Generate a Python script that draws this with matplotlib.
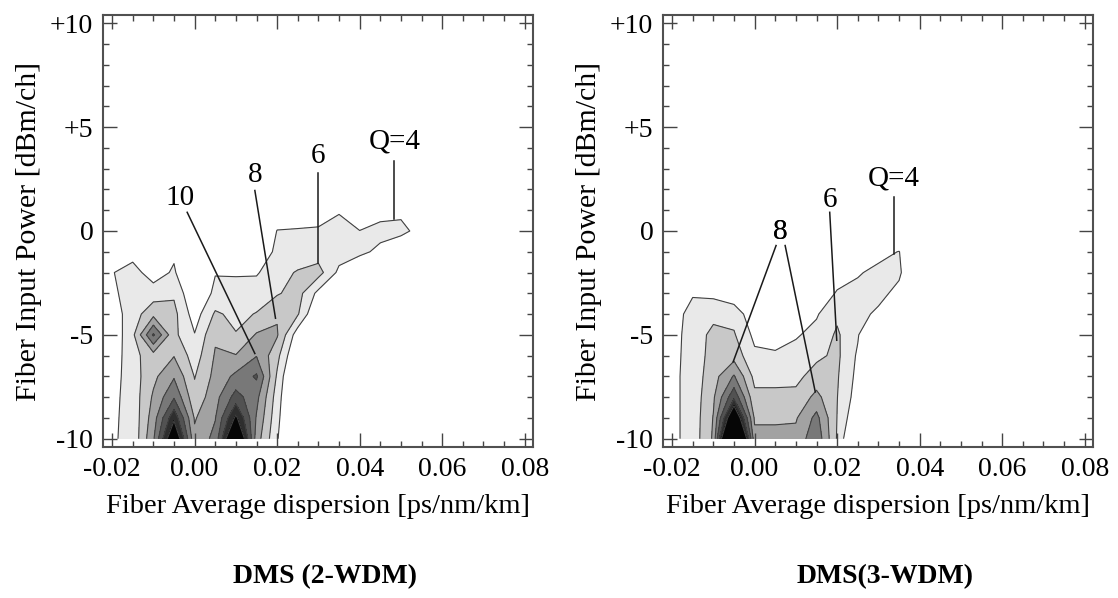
import matplotlib
matplotlib.use("Agg")
import matplotlib.pyplot as plt
import numpy as np

plt.rcParams["font.family"] = ["Liberation Serif", "DejaVu Serif"]

# grid of the simulation (dispersion in ps/nm/km, power in dBm/ch)
disp = [-0.025, -0.02, -0.015, -0.01, -0.005, 0.0, 0.005, 0.01, 0.015,
        0.02, 0.025, 0.03, 0.035, 0.04, 0.045, 0.05, 0.055, 0.06]
power = [-10, -9, -8, -7, -6, -5, -4, -3, -2, -1, 0, 1, 2]

# Q factor, one row per power value
q_2wdm = [
    [0, 3.8, 4.5, 9.7, 19.0, 8.5, 10.6, 21.0, 9.0, 4.2, 0, 0, 0, 0, 0, 0, 0, 0],
    [0, 3.7, 4.6, 9.0, 15.5, 7.8, 9.9, 16.5, 9.8, 4.6, 0, 0, 0, 0, 0, 0, 0, 0],
    [0, 3.5, 4.8, 8.3, 11.8, 6.6, 9.3, 12.8, 10.6, 5.0, 0, 0, 0, 0, 0, 0, 0, 0],
    [0, 3.2, 5.0, 7.5, 9.8, 5.9, 8.6, 10.5, 12.3, 5.7, 0, 0, 0, 0, 0, 0, 0, 0],
    [0, 2.8, 5.3, 7.2, 7.9, 5.0, 8.2, 8.1, 9.9, 6.6, 1.5, 0, 0, 0, 0, 0, 0, 0],
    [0, 2.5, 5.5, 12.3, 6.5, 4.1, 7.7, 6.1, 8.2, 8.2, 2.8, 0, 0, 0, 0, 0, 0, 0],
    [0, 3.0, 5.0, 7.4, 6.6, 3.0, 6.3, 5.5, 6.1, 7.8, 6.2, 1.5, 0, 0, 0, 0, 0, 0],
    [0, 3.6, 4.9, 5.0, 5.7, 2.0, 4.5, 4.8, 5.0, 5.8, 6.8, 3.4, 0, 0, 0, 0, 0, 0],
    [0, 3.9, 4.8, 3.0, 4.3, 1.0, 3.9, 3.8, 3.8, 5.2, 6.2, 6.8, 3.5, 1.5, 0.5, 0, 0, 0],
    [0, 0, 3.2, 0, 3.6, 0.5, 2.5, 2.5, 2.0, 4.6, 4.6, 5.0, 5.0, 4.6, 3.4, 2.0, 0, 0],
    [0, 0, 0, 0, 0, 0, 0, 0, 0, 4.1, 4.2, 4.3, 4.8, 4.05, 4.8, 4.6, 3.2, 0],
    [0, 0, 0, 0, 0, 0, 0, 0, 0, 2.0, 2.5, 2.8, 3.8, 2.0, 3.0, 3.5, 1.5, 0],
    [0, 0, 0, 0, 0, 0, 0, 0, 0, 0, 0, 0, 0, 0, 0, 0, 0, 0],
]

q_3wdm = [
    [0, 3.5, 4.8, 8.3, 28.0, 8.6, 8.6, 8.6, 11.5, 5.8, 0, 0, 0, 0, 0, 0, 0, 0],
    [0, 3.5, 4.8, 8.1, 19.5, 7.7, 7.7, 7.8, 10.6, 5.95, 2.0, 0, 0, 0, 0, 0, 0, 0],
    [0, 3.5, 4.8, 7.7, 13.5, 6.5, 6.5, 6.5, 8.6, 6.05, 3.0, 0, 0, 0, 0, 0, 0, 0],
    [0, 3.5, 4.8, 7.2, 10.2, 5.4, 5.4, 5.5, 6.8, 6.2, 3.4, 0, 0, 0, 0, 0, 0, 0],
    [0, 3.4, 4.8, 6.8, 7.2, 4.4, 4.2, 4.7, 5.6, 6.4, 3.7, 0, 0, 0, 0, 0, 0, 0],
    [0, 3.3, 4.8, 6.6, 6.2, 3.5, 3.4, 3.8, 4.6, 6.3, 4.2, 0, 0, 0, 0, 0, 0, 0],
    [0, 3.0, 4.8, 5.4, 5.3, 2.5, 2.5, 2.8, 3.8, 5.6, 4.8, 3.5, 0, 0, 0, 0, 0, 0],
    [0, 2.5, 3.8, 3.5, 2.5, 1.5, 1.5, 2.0, 2.5, 4.2, 4.9, 4.8, 3.2, 0, 0, 0, 0, 0],
    [0, 0, 0, 0, 0, 0, 0, 0, 0, 3.0, 3.7, 4.8, 4.5, 0, 0, 0, 0, 0],
    [0, 0, 0, 0, 0, 0, 0, 0, 0, 0, 2.0, 3.0, 4.1, 0, 0, 0, 0, 0],
    [0, 0, 0, 0, 0, 0, 0, 0, 0, 0, 0, 0, 0, 0, 0, 0, 0, 0],
    [0, 0, 0, 0, 0, 0, 0, 0, 0, 0, 0, 0, 0, 0, 0, 0, 0, 0],
    [0, 0, 0, 0, 0, 0, 0, 0, 0, 0, 0, 0, 0, 0, 0, 0, 0, 0],
]

q_levels = [4, 6, 8, 10, 12, 14, 16, 100]
grey_fill = ["#e9e9e9", "#c8c8c8", "#a2a2a2", "#787878", "#525252",
             "#2e2e2e", "#060606"]

x_ticks = [-0.02, 0.0, 0.02, 0.04, 0.06, 0.08]
x_ticklabels = ["-0.02", "0.00", "0.02", "0.04", "0.06", "0.08"]
y_ticks = [-10, -5, 0, 5, 10]
y_ticklabels = ["-10", "-5", "0", "+5", "+10"]

# contour labels: text, text position, leader line ends
labels_2wdm = [
    ("Q=4", (0.0484, 4.3), [(0.0484, 3.35), (0.0484, 0.6)]),
    ("6", (0.0299, 3.6), [(0.0299, 2.8), (0.0299, -1.56)]),
    ("8", (0.0146, 2.7), [(0.0146, 1.95), (0.0196, -4.2)]),
    ("10", (-0.0035, 1.6), [(-0.0018, 0.9), (0.0146, -5.9)]),
]
labels_3wdm = [
    ("Q=4", (0.0338, 2.55), [(0.0338, 1.65), (0.0338, -1.1)]),
    ("6", (0.0182, 1.5), [(0.0182, 0.9), (0.0199, -5.26)]),
    ("8", (0.0063, -0.05), [(0.0052, -0.7), (-0.0052, -6.3)]),
    ("8", (0.0063, -0.05), [(0.0074, -0.7), (0.0147, -7.75)]),
]

panels = [
    (q_2wdm, labels_2wdm, "DMS (2-WDM)", 103),
    (q_3wdm, labels_3wdm, "DMS(3-WDM)", 663),
]

W, H = 1118, 598
fig = plt.figure(figsize=(W / 100, H / 100), dpi=100)

X, Y = np.meshgrid(disp, power)

for q, notes, title, left_px in panels:
    ax = fig.add_axes([left_px / W, 151 / H, 430 / W, 432 / H])
    Z = np.array(q)
    ax.contourf(X, Y, Z, levels=q_levels, colors=grey_fill)
    ax.contour(X, Y, Z, levels=q_levels[:-1], colors="#404040", linewidths=0.8)

    for text, (tx, ty), ((x0, y0), (x1, y1)) in notes:
        ax.plot([x0, x1], [y0, y1], color="#1a1a1a", lw=1.1)
        ax.text(tx, ty, text, ha="center", va="center", fontsize=21)

    ax.set_xlim(-0.0222, 0.082)
    ax.set_ylim(-10.4, 10.4)
    ax.set_xticks(x_ticks)
    ax.set_xticklabels(x_ticklabels)
    ax.set_xticks(np.arange(-0.02, 0.0801, 0.005), minor=True)
    ax.set_yticks(y_ticks)
    ax.set_yticklabels(y_ticklabels)
    ax.set_yticks(np.arange(-10, 10.1, 1), minor=True)
    ax.tick_params(which="both", direction="in", top=True, right=True,
                   color="#444444", width=1.0, labelsize=20)
    ax.tick_params(which="major", length=10, pad=7)
    ax.tick_params(which="minor", length=4)
    for sp in ax.spines.values():
        sp.set_color("#505050")
        sp.set_linewidth(1.5)

    ax.set_xlabel("Fiber Average dispersion [ps/nm/km]", fontsize=20.5, labelpad=9)
    ax.set_ylabel("Fiber Input Power [dBm/ch]", fontsize=21.5)
    ax.yaxis.set_label_coords(-0.142, 0.5)

    fig.text((left_px + 222) / W, 1 - 577 / H, title, ha="center", va="center",
             fontsize=20, fontweight="bold")

fig.savefig("out.png", dpi=100, facecolor="white")
